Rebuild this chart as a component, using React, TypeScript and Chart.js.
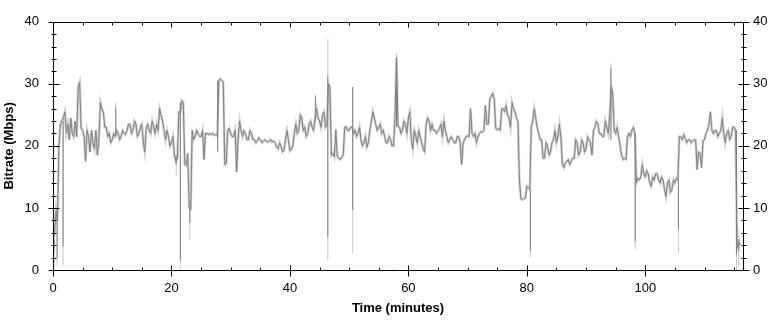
import { useEffect, useRef } from 'react';
import { Chart, registerables } from 'chart.js';

Chart.register(...registerables);

// Sampling interval of the bitrate trace (minutes)
const TIME_STEP = 0.25;

// Bitrate (Mbps) sampled every 0.25 minute from 0 to 116 minutes (one row = 5 minutes)
const BITRATE = [
  4.5, 6, 9.5, 8, 20, 23.5, 24, 24.5, 25.5, 22, 23.5, 21, 24.5, 22, 21.5, 24, 21.5, 29.5, 30.3, 22.8,
  22.5, 21.5, 17.5, 22.5, 21.5, 19, 22.5, 20.5, 19.5, 22.5, 18.5, 21, 27, 26, 25.5, 23, 23, 21.5, 22, 20.5,
  21, 22, 21.5, 22.5, 22, 21, 21.5, 22.5, 22, 21.8, 22.5, 23.5, 23.5, 22, 22.5, 24, 23.5, 21.5, 22, 23,
  23.5, 20.5, 19, 23, 23.5, 22.5, 22, 24, 23, 22, 23.5, 22.5, 26, 25, 24, 22.5, 21, 22.5, 21.5, 20,
  20.5, 21.5, 18.5, 17.5, 18, 25.5, 25.5, 27.3, 27, 17, 16.8, 18.8, 10, 9.8, 22.5, 21, 21.5, 22.5, 22, 21.5,
  21.5, 22.5, 17.8, 22, 22, 21.8, 22, 21.8, 22, 21.7, 21.8, 21.6, 30.5, 30.8, 30.5, 30.3, 17, 17.2, 22.5, 22.8,
  22, 21.5, 21.5, 22.5, 15.8, 21, 24, 22.5, 21.5, 22.5, 22, 21, 21, 22.5, 22, 21, 21, 20.5, 20.8, 21.3,
  21, 20.5, 20.7, 21, 20.8, 20.6, 20.8, 21, 20.6, 20.8, 20.5, 19.8, 19.5, 20.5, 20, 19, 19.3, 21, 22.5, 21,
  19.2, 19.5, 20, 22, 23.5, 22, 22.5, 25, 24.5, 22.5, 23, 21.5, 22, 23.5, 24, 23, 22.5, 24.5, 26, 24.5,
  24, 23, 25, 25.5, 23, 23.5, 30, 29.5, 18.5, 18.8, 18.2, 22.6, 18.3, 18, 17.8, 18.2, 18.5, 23, 23.1, 22.5,
  22.5, 23, 23, 22, 22.5, 21.5, 22, 23, 21, 20, 20.5, 21.5, 19.8, 20.5, 22.5, 24, 25.5, 24.5, 23.5, 22.5,
  23, 23.5, 22, 22.5, 21.5, 20.5, 20.5, 21.5, 21, 20, 20, 25, 34.2, 23.2, 23, 22, 22.5, 24, 23.5, 22,
  24.5, 25.5, 21, 19.5, 22.5, 21.5, 20.5, 22.5, 21.5, 20.5, 19.5, 19, 23.5, 24.5, 24, 22.5, 23.5, 22.5, 22.5, 22,
  22.4, 22.8, 23.5, 21.5, 24, 22.5, 21.5, 20.5, 21, 21.5, 21, 20.5, 20.5, 21.5, 21.5, 20.5, 17, 20.5, 21, 21.5,
  21.6, 21.5, 26, 22, 21.5, 22, 20.5, 21.5, 22, 22.3, 22.2, 22.5, 26.5, 23.5, 23.5, 27.5, 28, 28.5, 27.5, 22.8,
  22.6, 22.8, 22.5, 26, 26, 25.5, 26.5, 25, 24.5, 23, 27, 26, 25.5, 24.5, 24, 14.5, 11.5, 11.3, 11.5, 11.6,
  13.5, 13.3, 13, 23, 24, 26, 24.5, 23, 22, 21, 21, 18, 18, 20.5, 20, 18.5, 19, 20.5, 21, 22.5,
  20.5, 21.5, 23.5, 21.5, 17, 16.5, 17.3, 17.5, 17.8, 17, 17.5, 18, 18, 21, 20.5, 18.5, 19, 21, 20.5, 19,
  19.5, 21.5, 21, 20.5, 18.5, 22.5, 23, 24, 23.5, 22, 22, 21.5, 21.5, 24, 23, 22, 25, 29.5, 28.5, 22.5,
  22, 23, 21.5, 20, 18.5, 17.8, 18, 17.8, 21.5, 22, 21.5, 22.5, 23, 22, 14, 14.8, 14.5, 15, 17, 15.5,
  15, 16, 15.5, 14, 13.5, 15, 14.5, 15.5, 15.5, 14.5, 14, 15, 14.5, 13, 11.8, 14, 14.5, 12.5, 13, 14.5,
  14, 14.8, 14.5, 21.5, 21.5, 21, 21.8, 21.2, 20.5, 21, 21, 20.5, 20.8, 21, 21, 16.2, 19, 18.8, 16.5, 20.8,
  21, 22, 22.5, 23.5, 25.5, 22.5, 22, 22.5, 22.5, 21.5, 22, 22.5, 24.5, 22, 20.5, 22, 22.5, 21, 21.5, 23,
  23, 22.5, 3.5, 4.5, 4,
];
const TIMES = BITRATE.map((_, i) => i * TIME_STEP);

// Short bursts / dropouts (minute, dark trace range, light raw range)
const SPIKE_TIMES = [0.2, 0.7, 1.7, 10.6, 20.8, 21.5, 23.1, 27.8, 44.3, 46.4, 50.6, 58.0, 80.6, 94.2, 98.3, 105.6, 115.4, 115.8];
const SPIKE_DARK_LO = [3, 2, 3.8, 21.5, 17, 1.5, 7.6, 19.1, 24, 5.3, 9.7, 23, 3.1, 21, 4.6, 6.6, 2.5, 3];
const SPIKE_DARK_HI = [5, 10, 24, 26.2, 18.5, 27, 10, 30.5, 28, 31.3, 29.5, 34.2, 13, 32.6, 22, 14.5, 22.5, 5];
const SPIKE_RAW_LO = [0.5, 0.8, 0.8, 21.5, 15.3, 0, 4.8, 19.1, 24, 1.5, 2.7, 23, 2, 21, 3.3, 2.8, 0, 0.5];
const SPIKE_RAW_HI = [5, 10, 24, 27, 18.5, 27, 10, 30.5, 28.3, 37.2, 29.5, 34.9, 13, 33.3, 22, 14.5, 22.5, 6.5];

// Axis ranges and tick spacing
const X_MAX = 116.5;
const X_LABELS = [0, 20, 40, 60, 80, 100];
const X_MINOR = 5;
const Y_LABELS = [0, 10, 20, 30, 40];
const Y_MINOR = 2;

const FONT = 'Liberation Sans, Arial, sans-serif';

function segments(times: number[], lo: number[], hi: number[]) {
  const pts: { x: number; y: number | null }[] = [];
  times.forEach((t, i) => {
    pts.push({ x: t, y: lo[i] }, { x: t, y: hi[i] }, { x: t, y: null });
  });
  return pts;
}

const frameTicks = {
  id: 'frameTicks',
  afterDatasetsDraw(chart: any) {
    const { ctx, chartArea: a, scales } = chart;
    const xs = scales.x;
    const ys = scales.y;
    const L = Math.round(a.left) + 0.5;
    const R = Math.round(a.right) + 0.5;
    const T = Math.round(a.top) + 0.5;
    const B = Math.round(a.bottom) + 0.5;
    ctx.save();
    ctx.strokeStyle = '#000';
    ctx.lineWidth = 1;
    ctx.beginPath();
    ctx.rect(L, T, R - L, B - T);
    for (let v = 0; v <= X_MAX; v += X_MINOR) {
      const px = Math.round(xs.getPixelForValue(v)) + 0.5;
      const major = X_LABELS.includes(v);
      if (major) {
        ctx.moveTo(px, B - 5); ctx.lineTo(px, B + 6);
        ctx.moveTo(px, T); ctx.lineTo(px, T + 5);
      } else {
        ctx.moveTo(px, B - 3); ctx.lineTo(px, B);
        ctx.moveTo(px, T); ctx.lineTo(px, T + 3);
      }
    }
    for (let v = 0; v <= 40; v += Y_MINOR) {
      const py = Math.round(ys.getPixelForValue(v)) + 0.5;
      const major = Y_LABELS.includes(v);
      const h = major ? 5 : 2;
      ctx.moveTo(L - h, py); ctx.lineTo(L + h + 1, py);
      ctx.moveTo(R - h, py); ctx.lineTo(R + h + 1, py);
    }
    ctx.stroke();
    ctx.restore();
  },
};

export default function App() {
  const ref = useRef<HTMLCanvasElement | null>(null);
  useEffect(() => {
    if (!ref.current) return;
    const main = TIMES.map((t, i) => ({ x: t, y: BITRATE[i] }));
    const chart = new Chart(ref.current, {
      type: 'line',
      data: {
        datasets: [
          { data: segments(SPIKE_TIMES, SPIKE_RAW_LO, SPIKE_RAW_HI), borderColor: '#c8c8c8', borderWidth: 1, pointRadius: 0, spanGaps: false, order: 4 } as any,
          { data: main, borderColor: '#cfcfcf', borderWidth: 2.5, pointRadius: 0, order: 3 } as any,
          { data: segments(SPIKE_TIMES, SPIKE_DARK_LO, SPIKE_DARK_HI), borderColor: '#808080', borderWidth: 1, pointRadius: 0, spanGaps: false, order: 2 } as any,
          { data: main, borderColor: '#808080', borderWidth: 1, pointRadius: 0, order: 1 } as any,
        ],
      },
      options: {
        animation: false,
        responsive: false,
        events: [],
        layout: { padding: { top: 8, left: 0, right: 0, bottom: 0 } },
        plugins: { legend: { display: false }, tooltip: { enabled: false } },
        scales: {
          x: {
            type: 'linear', min: 0, max: X_MAX, position: 'bottom',
            afterBuildTicks: (s: any) => { s.ticks = X_LABELS.map((v) => ({ value: v })); },
            afterFit: (s: any) => { s.height = 50; },
            ticks: { padding: 11, color: '#000', font: { family: FONT, size: 13 }, maxRotation: 0, autoSkip: false },
            grid: { display: false, drawTicks: false },
            border: { display: false },
            title: { display: true, text: 'Time (minutes)', color: '#000', font: { family: FONT, size: 13, weight: 'bold' }, padding: { top: 0, bottom: 4 } },
          },
          y: {
            position: 'left', min: 0, max: 40,
            afterBuildTicks: (s: any) => { s.ticks = Y_LABELS.map((v) => ({ value: v })); },
            afterFit: (s: any) => { s.width = 53; },
            ticks: { padding: 14, color: '#000', font: { family: FONT, size: 13 } },
            grid: { display: false, drawTicks: false },
            border: { display: false },
            title: { display: true, text: 'Bitrate (Mbps)', color: '#000', font: { family: FONT, size: 13, weight: 'bold' }, padding: { top: 2, bottom: 0 } },
          },
          y2: {
            position: 'right', min: 0, max: 40,
            afterBuildTicks: (s: any) => { s.ticks = Y_LABELS.map((v) => ({ value: v })); },
            afterFit: (s: any) => { s.width = 32; },
            ticks: { padding: 10, color: '#000', font: { family: FONT, size: 13 } },
            grid: { display: false, drawTicks: false },
            border: { display: false },
          },
        },
      } as any,
      plugins: [frameTicks],
    });
    return () => chart.destroy();
  }, []);
  return (
    <div style={{ position: 'absolute', left: 0, top: 0, width: 775, height: 320, background: '#fff' }}>
      <canvas ref={ref} width={775} height={320} style={{ display: 'block' }} />
    </div>
  );
}
